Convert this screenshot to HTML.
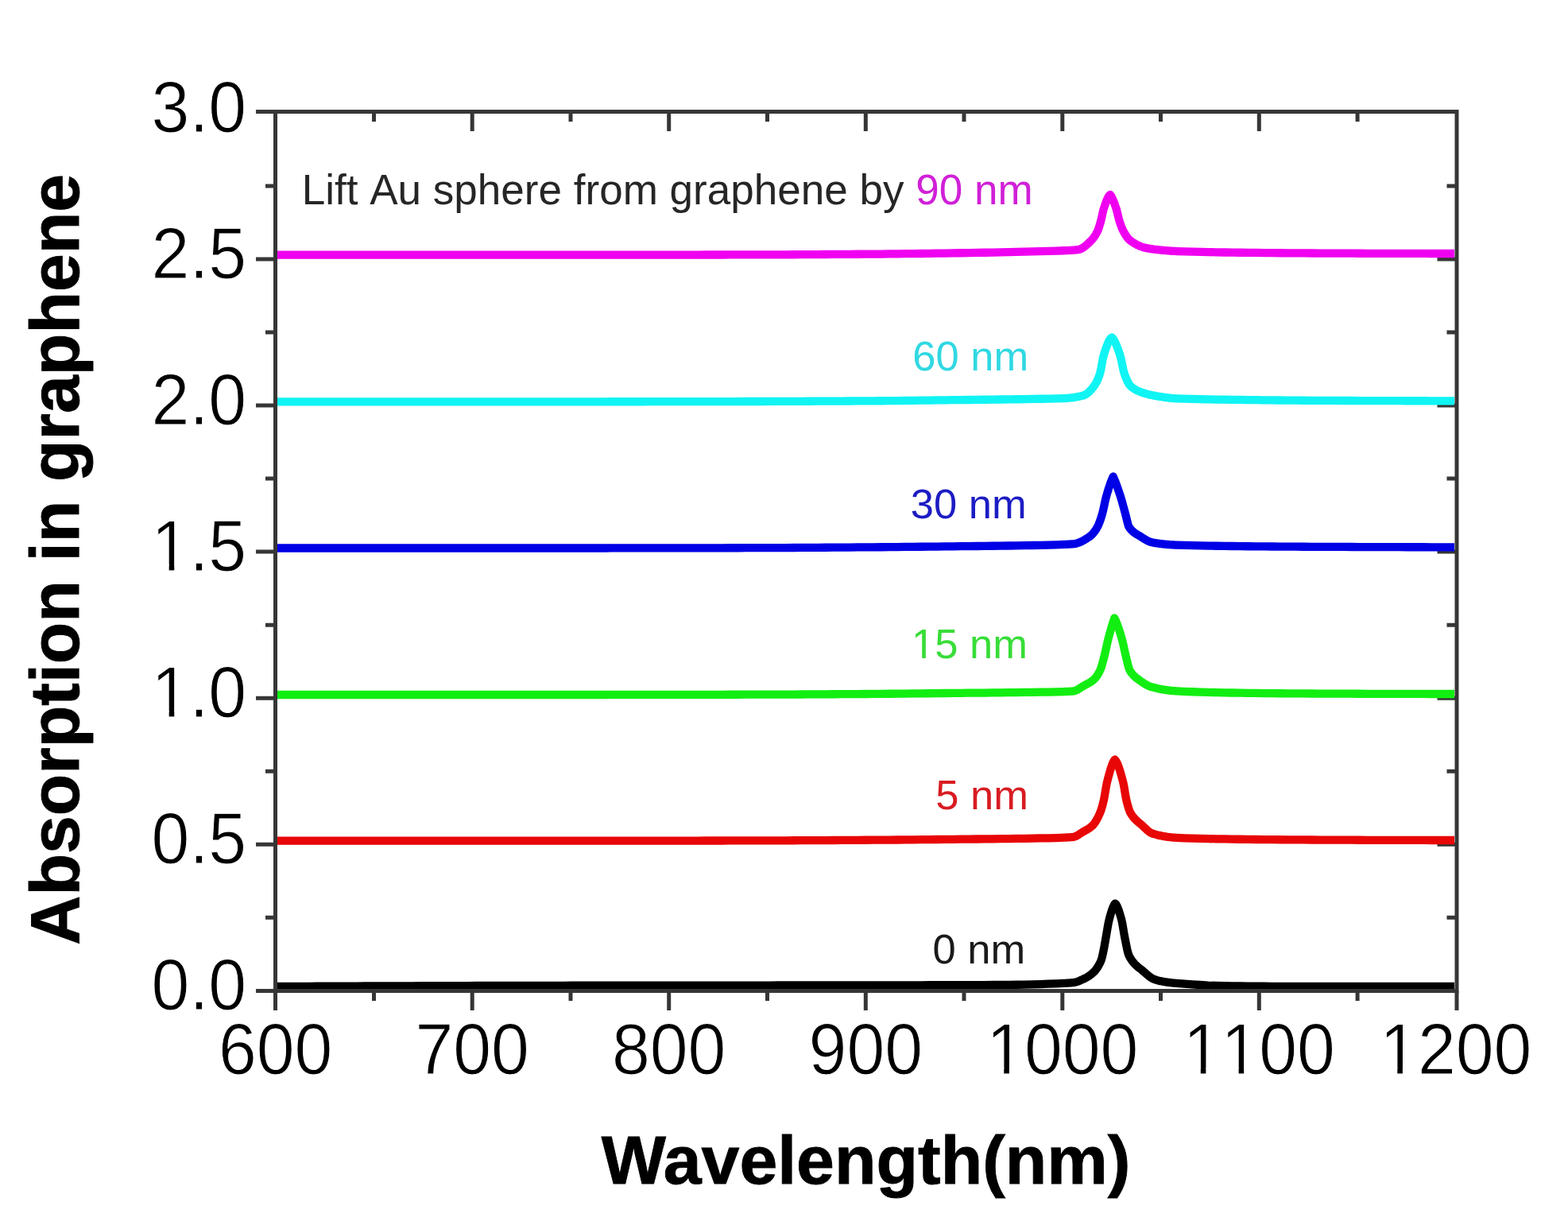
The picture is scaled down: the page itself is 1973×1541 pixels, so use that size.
<!DOCTYPE html><html><head><meta charset="utf-8"><title>Absorption in graphene</title>
<style>html,body{margin:0;padding:0;background:#fff;}svg{display:block;}text{font-family:"Liberation Sans",Arial,sans-serif;}</style></head><body>
<svg width="1973" height="1541" viewBox="0 0 1973 1541">
<rect width="1973" height="1541" fill="#fff"/>
<path d="M322.0,1246.5H346.5M334.0,1154.3H346.5M1833.0,1154.3H1820.5M322.0,1062.2H346.5M1833.0,1062.2H1808.5M334.0,970.2H346.5M1833.0,970.2H1820.5M322.0,878.2H346.5M1833.0,878.2H1808.5M334.0,786.2H346.5M1833.0,786.2H1820.5M322.0,694.1H346.5M1833.0,694.1H1808.5M334.0,602.1H346.5M1833.0,602.1H1820.5M322.0,510.1H346.5M1833.0,510.1H1808.5M334.0,418.1H346.5M1833.0,418.1H1820.5M322.0,326.0H346.5M1833.0,326.0H1808.5M334.0,234.0H346.5M1833.0,234.0H1820.5M322.0,140.5H346.5M346.5,1246.5V1271.0M470.5,1246.5V1259.0M470.5,140.5V153.0M594.2,1246.5V1271.0M594.2,140.5V165.0M718.0,1246.5V1259.0M718.0,140.5V153.0M841.7,1246.5V1271.0M841.7,140.5V165.0M965.5,1246.5V1259.0M965.5,140.5V153.0M1089.3,1246.5V1271.0M1089.3,140.5V165.0M1213.0,1246.5V1259.0M1213.0,140.5V153.0M1336.8,1246.5V1271.0M1336.8,140.5V165.0M1460.5,1246.5V1259.0M1460.5,140.5V153.0M1584.3,1246.5V1271.0M1584.3,140.5V165.0M1708.1,1246.5V1259.0M1708.1,140.5V153.0M1833.0,1246.5V1271.0" stroke="#363636" stroke-width="5" fill="none"/>
<path d="M349.0,320.70 L359.0,320.70 L369.0,320.70 L379.0,320.70 L389.0,320.70 L399.0,320.70 L409.0,320.70 L419.0,320.70 L429.0,320.70 L439.0,320.70 L449.0,320.70 L459.0,320.70 L469.0,320.70 L479.0,320.70 L489.0,320.70 L499.0,320.70 L509.0,320.70 L519.0,320.70 L529.0,320.70 L539.0,320.70 L549.0,320.70 L559.0,320.70 L569.0,320.70 L579.0,320.70 L589.0,320.70 L599.0,320.70 L609.0,320.70 L619.0,320.70 L629.0,320.70 L639.0,320.70 L649.0,320.70 L659.0,320.70 L669.0,320.70 L679.0,320.70 L689.0,320.70 L699.0,320.70 L709.0,320.70 L719.0,320.70 L729.0,320.69 L739.0,320.69 L749.0,320.69 L759.0,320.68 L769.0,320.67 L779.0,320.66 L789.0,320.66 L799.0,320.65 L809.0,320.63 L819.0,320.62 L829.0,320.61 L839.0,320.60 L849.0,320.58 L859.0,320.57 L869.0,320.55 L879.0,320.53 L889.0,320.52 L899.0,320.50 L909.0,320.48 L919.0,320.46 L929.0,320.44 L939.0,320.42 L949.0,320.40 L959.0,320.38 L969.0,320.35 L979.0,320.32 L989.0,320.28 L999.0,320.24 L1009.0,320.19 L1019.0,320.14 L1029.0,320.08 L1039.0,320.02 L1049.0,319.96 L1059.0,319.89 L1069.0,319.83 L1079.0,319.76 L1089.0,319.68 L1099.0,319.61 L1109.0,319.53 L1119.0,319.44 L1129.0,319.33 L1139.0,319.22 L1149.0,319.11 L1159.0,318.98 L1169.0,318.85 L1179.0,318.71 L1189.0,318.56 L1199.0,318.41 L1209.0,318.26 L1219.0,318.10 L1229.0,317.92 L1239.0,317.74 L1249.0,317.54 L1259.0,317.34 L1269.0,317.12 L1279.0,316.90 L1289.0,316.67 L1299.0,316.42 L1309.0,316.18 L1319.0,315.92 L1329.0,315.62 L1339.0,315.24 L1340.0,315.20 L1341.0,315.16 L1342.0,315.11 L1343.0,315.07 L1344.0,315.03 L1345.0,314.98 L1346.0,314.93 L1347.0,314.88 L1348.0,314.82 L1349.0,314.76 L1350.0,314.70 L1351.0,314.63 L1352.0,314.55 L1353.0,314.47 L1354.0,314.37 L1355.0,314.27 L1356.0,314.16 L1357.0,314.03 L1358.0,313.81 L1359.0,313.49 L1360.0,313.09 L1361.0,312.60 L1362.0,312.04 L1363.0,311.41 L1364.0,310.71 L1365.0,309.96 L1366.0,309.15 L1367.0,308.30 L1368.0,307.40 L1369.0,306.47 L1370.0,305.51 L1371.0,304.52 L1372.0,303.52 L1373.0,302.51 L1374.0,301.48 L1375.0,300.36 L1376.0,299.11 L1377.0,297.73 L1378.0,296.21 L1379.0,294.54 L1380.0,292.71 L1381.0,290.71 L1382.0,288.37 L1383.0,285.50 L1384.0,282.24 L1385.0,278.72 L1386.0,274.87 L1387.0,270.12 L1388.0,265.49 L1389.0,262.08 L1390.0,259.07 L1391.0,256.19 L1392.0,253.50 L1393.0,251.05 L1394.0,248.92 L1395.0,247.16 L1396.0,245.83 L1397.0,245.00 L1398.0,246.39 L1399.0,248.15 L1400.0,250.22 L1401.0,252.58 L1402.0,255.16 L1403.0,257.95 L1404.0,260.88 L1405.0,263.94 L1406.0,267.85 L1407.0,272.24 L1408.0,276.23 L1409.0,279.41 L1410.0,282.36 L1411.0,285.09 L1412.0,287.55 L1413.0,289.72 L1414.0,291.62 L1415.0,293.41 L1416.0,295.11 L1417.0,296.70 L1418.0,298.15 L1419.0,299.46 L1420.0,300.61 L1421.0,301.57 L1422.0,302.37 L1423.0,303.12 L1424.0,303.84 L1425.0,304.54 L1426.0,305.20 L1427.0,305.83 L1428.0,306.44 L1429.0,307.01 L1430.0,307.55 L1431.0,308.07 L1432.0,308.56 L1433.0,309.02 L1434.0,309.45 L1435.0,309.86 L1436.0,310.24 L1437.0,310.59 L1438.0,310.92 L1439.0,311.22 L1440.0,311.49 L1441.0,311.74 L1442.0,311.97 L1443.0,312.17 L1444.0,312.37 L1445.0,312.56 L1446.0,312.74 L1447.0,312.90 L1448.0,313.06 L1449.0,313.21 L1450.0,313.36 L1451.0,313.49 L1452.0,313.62 L1453.0,313.75 L1454.0,313.87 L1455.0,313.98 L1456.0,314.09 L1457.0,314.20 L1458.0,314.30 L1459.0,314.40 L1460.0,314.50 L1461.0,314.60 L1462.0,314.69 L1463.0,314.79 L1464.0,314.88 L1465.0,314.98 L1466.0,315.06 L1467.0,315.15 L1468.0,315.24 L1469.0,315.32 L1470.0,315.40 L1471.0,315.48 L1472.0,315.55 L1473.0,315.62 L1474.0,315.69 L1475.0,315.75 L1476.0,315.81 L1477.0,315.86 L1478.0,315.91 L1479.0,315.96 L1480.0,316.00 L1481.0,316.04 L1491.0,316.39 L1501.0,316.69 L1511.0,316.94 L1521.0,317.15 L1531.0,317.32 L1541.0,317.48 L1551.0,317.61 L1561.0,317.74 L1571.0,317.86 L1581.0,317.97 L1591.0,318.07 L1601.0,318.17 L1611.0,318.25 L1621.0,318.33 L1631.0,318.40 L1641.0,318.46 L1651.0,318.50 L1661.0,318.55 L1671.0,318.59 L1681.0,318.63 L1691.0,318.68 L1701.0,318.71 L1711.0,318.75 L1721.0,318.79 L1731.0,318.82 L1741.0,318.85 L1751.0,318.88 L1761.0,318.91 L1771.0,318.93 L1781.0,318.95 L1791.0,318.97 L1801.0,318.98 L1811.0,318.99 L1821.0,319.00 L1830.0,319.00" stroke="#f000f0" stroke-width="10.3" fill="none" stroke-linejoin="round" stroke-linecap="butt"/>
<path d="M349.0,505.30 L359.0,505.30 L369.0,505.30 L379.0,505.30 L389.0,505.30 L399.0,505.30 L409.0,505.30 L419.0,505.30 L429.0,505.30 L439.0,505.30 L449.0,505.30 L459.0,505.30 L469.0,505.30 L479.0,505.30 L489.0,505.30 L499.0,505.30 L509.0,505.30 L519.0,505.30 L529.0,505.30 L539.0,505.30 L549.0,505.30 L559.0,505.30 L569.0,505.30 L579.0,505.30 L589.0,505.30 L599.0,505.30 L609.0,505.30 L619.0,505.30 L629.0,505.30 L639.0,505.30 L649.0,505.30 L659.0,505.30 L669.0,505.30 L679.0,505.30 L689.0,505.30 L699.0,505.30 L709.0,505.30 L719.0,505.30 L729.0,505.29 L739.0,505.29 L749.0,505.29 L759.0,505.28 L769.0,505.27 L779.0,505.26 L789.0,505.25 L799.0,505.24 L809.0,505.23 L819.0,505.22 L829.0,505.21 L839.0,505.19 L849.0,505.18 L859.0,505.16 L869.0,505.15 L879.0,505.13 L889.0,505.11 L899.0,505.10 L909.0,505.08 L919.0,505.06 L929.0,505.04 L939.0,505.02 L949.0,505.00 L959.0,504.98 L969.0,504.95 L979.0,504.92 L989.0,504.89 L999.0,504.85 L1009.0,504.81 L1019.0,504.77 L1029.0,504.72 L1039.0,504.67 L1049.0,504.61 L1059.0,504.56 L1069.0,504.50 L1079.0,504.44 L1089.0,504.37 L1099.0,504.31 L1109.0,504.23 L1119.0,504.15 L1129.0,504.05 L1139.0,503.94 L1149.0,503.83 L1159.0,503.71 L1169.0,503.58 L1179.0,503.46 L1189.0,503.33 L1199.0,503.21 L1209.0,503.09 L1219.0,502.98 L1229.0,502.86 L1239.0,502.75 L1249.0,502.63 L1259.0,502.50 L1269.0,502.37 L1279.0,502.23 L1289.0,502.08 L1299.0,501.92 L1309.0,501.76 L1319.0,501.59 L1329.0,501.37 L1339.0,501.04 L1340.0,501.00 L1341.0,500.95 L1342.0,500.90 L1343.0,500.84 L1344.0,500.76 L1345.0,500.68 L1346.0,500.59 L1347.0,500.49 L1348.0,500.38 L1349.0,500.27 L1350.0,500.14 L1351.0,500.00 L1352.0,499.85 L1353.0,499.69 L1354.0,499.53 L1355.0,499.35 L1356.0,499.16 L1357.0,498.95 L1358.0,498.74 L1359.0,498.52 L1360.0,498.28 L1361.0,498.04 L1362.0,497.78 L1363.0,497.51 L1364.0,497.21 L1365.0,496.80 L1366.0,496.28 L1367.0,495.66 L1368.0,494.94 L1369.0,494.12 L1370.0,493.23 L1371.0,492.26 L1372.0,491.21 L1373.0,490.11 L1374.0,488.94 L1375.0,487.73 L1376.0,486.47 L1377.0,485.17 L1378.0,483.69 L1379.0,482.01 L1380.0,480.11 L1381.0,477.99 L1382.0,475.62 L1383.0,472.99 L1384.0,470.10 L1385.0,466.09 L1386.0,460.75 L1387.0,455.02 L1388.0,449.83 L1389.0,446.08 L1390.0,442.98 L1391.0,439.97 L1392.0,437.08 L1393.0,434.37 L1394.0,431.88 L1395.0,429.67 L1396.0,427.78 L1397.0,426.27 L1398.0,425.18 L1399.0,424.56 L1399.2,424.50 L1400.2,425.55 L1401.2,426.93 L1402.2,428.62 L1403.2,430.59 L1404.2,432.80 L1405.2,435.22 L1406.2,437.83 L1407.2,440.58 L1408.2,443.45 L1409.2,446.40 L1410.2,449.92 L1411.2,454.39 L1412.2,459.29 L1413.2,464.06 L1414.2,468.18 L1415.2,471.20 L1416.2,473.86 L1417.2,476.36 L1418.2,478.66 L1419.2,480.74 L1420.2,482.57 L1421.2,484.10 L1422.2,485.31 L1423.2,486.23 L1424.2,487.06 L1425.2,487.83 L1426.2,488.55 L1427.2,489.22 L1428.2,489.84 L1429.2,490.41 L1430.2,490.95 L1431.2,491.44 L1432.2,491.90 L1433.2,492.34 L1434.2,492.74 L1435.2,493.12 L1436.2,493.48 L1437.2,493.82 L1438.2,494.15 L1439.2,494.47 L1440.2,494.78 L1441.2,495.07 L1442.2,495.36 L1443.2,495.63 L1444.2,495.90 L1445.2,496.15 L1446.2,496.39 L1447.2,496.63 L1448.2,496.86 L1449.2,497.07 L1450.2,497.28 L1451.2,497.49 L1452.2,497.68 L1453.2,497.87 L1454.2,498.05 L1455.2,498.23 L1456.2,498.40 L1457.2,498.56 L1458.2,498.72 L1459.2,498.88 L1460.2,499.03 L1461.2,499.18 L1462.2,499.33 L1463.2,499.48 L1464.2,499.63 L1465.2,499.77 L1466.2,499.91 L1467.2,500.05 L1468.2,500.19 L1469.2,500.32 L1470.2,500.45 L1471.2,500.57 L1472.2,500.68 L1473.2,500.79 L1474.2,500.89 L1475.2,500.98 L1476.2,501.07 L1477.2,501.14 L1478.2,501.21 L1479.2,501.26 L1480.2,501.31 L1490.2,501.68 L1500.2,501.97 L1510.2,502.20 L1520.2,502.38 L1530.2,502.53 L1540.2,502.67 L1550.2,502.80 L1560.2,502.94 L1570.2,503.07 L1580.2,503.19 L1590.2,503.31 L1600.2,503.42 L1610.2,503.52 L1620.2,503.61 L1630.2,503.68 L1640.2,503.75 L1650.2,503.80 L1660.2,503.85 L1670.2,503.89 L1680.2,503.93 L1690.2,503.98 L1700.2,504.01 L1710.2,504.05 L1720.2,504.09 L1730.2,504.12 L1740.2,504.15 L1750.2,504.18 L1760.2,504.21 L1770.2,504.23 L1780.2,504.25 L1790.2,504.27 L1800.2,504.28 L1810.2,504.29 L1820.2,504.30 L1830.0,504.30" stroke="#10f4f4" stroke-width="10.3" fill="none" stroke-linejoin="round" stroke-linecap="butt"/>
<path d="M349.0,689.50 L359.0,689.50 L369.0,689.50 L379.0,689.50 L389.0,689.50 L399.0,689.50 L409.0,689.50 L419.0,689.50 L429.0,689.50 L439.0,689.50 L449.0,689.50 L459.0,689.50 L469.0,689.50 L479.0,689.50 L489.0,689.50 L499.0,689.50 L509.0,689.50 L519.0,689.50 L529.0,689.50 L539.0,689.50 L549.0,689.50 L559.0,689.50 L569.0,689.50 L579.0,689.50 L589.0,689.50 L599.0,689.50 L609.0,689.50 L619.0,689.50 L629.0,689.50 L639.0,689.50 L649.0,689.50 L659.0,689.50 L669.0,689.50 L679.0,689.50 L689.0,689.50 L699.0,689.50 L709.0,689.50 L719.0,689.50 L729.0,689.50 L739.0,689.49 L749.0,689.49 L759.0,689.48 L769.0,689.47 L779.0,689.47 L789.0,689.46 L799.0,689.45 L809.0,689.44 L819.0,689.42 L829.0,689.41 L839.0,689.40 L849.0,689.38 L859.0,689.37 L869.0,689.35 L879.0,689.34 L889.0,689.32 L899.0,689.30 L909.0,689.28 L919.0,689.26 L929.0,689.24 L939.0,689.22 L949.0,689.20 L959.0,689.18 L969.0,689.15 L979.0,689.11 L989.0,689.06 L999.0,689.01 L1009.0,688.95 L1019.0,688.89 L1029.0,688.83 L1039.0,688.76 L1049.0,688.69 L1059.0,688.61 L1069.0,688.54 L1079.0,688.46 L1089.0,688.38 L1099.0,688.31 L1109.0,688.23 L1119.0,688.14 L1129.0,688.05 L1139.0,687.96 L1149.0,687.86 L1159.0,687.75 L1169.0,687.64 L1179.0,687.54 L1189.0,687.42 L1199.0,687.31 L1209.0,687.20 L1219.0,687.09 L1229.0,686.99 L1239.0,686.88 L1249.0,686.77 L1259.0,686.65 L1269.0,686.51 L1279.0,686.37 L1289.0,686.20 L1299.0,686.02 L1309.0,685.83 L1319.0,685.63 L1329.0,685.35 L1339.0,684.95 L1340.0,684.90 L1341.0,684.85 L1342.0,684.80 L1343.0,684.74 L1344.0,684.69 L1345.0,684.63 L1346.0,684.57 L1347.0,684.50 L1348.0,684.44 L1349.0,684.37 L1350.0,684.30 L1351.0,684.21 L1352.0,684.07 L1353.0,683.88 L1354.0,683.66 L1355.0,683.39 L1356.0,683.08 L1357.0,682.74 L1358.0,682.36 L1359.0,681.95 L1360.0,681.51 L1361.0,681.03 L1362.0,680.53 L1363.0,680.00 L1364.0,679.44 L1365.0,678.86 L1366.0,678.25 L1367.0,677.63 L1368.0,676.98 L1369.0,676.32 L1370.0,675.64 L1371.0,674.95 L1372.0,674.23 L1373.0,673.41 L1374.0,672.46 L1375.0,671.40 L1376.0,670.23 L1377.0,668.94 L1378.0,667.55 L1379.0,666.04 L1380.0,664.44 L1381.0,662.72 L1382.0,660.72 L1383.0,658.35 L1384.0,655.66 L1385.0,652.72 L1386.0,649.58 L1387.0,646.27 L1388.0,642.31 L1389.0,637.82 L1390.0,633.15 L1391.0,628.63 L1392.0,624.61 L1393.0,621.15 L1394.0,617.80 L1395.0,614.58 L1396.0,611.50 L1397.0,608.58 L1398.0,605.84 L1399.0,603.30 L1400.0,600.98 L1400.7,599.50 L1401.7,601.79 L1402.7,604.21 L1403.7,606.74 L1404.7,609.37 L1405.7,612.11 L1406.7,614.94 L1407.7,617.85 L1408.7,620.84 L1409.7,623.90 L1410.7,627.11 L1411.7,630.53 L1412.7,634.10 L1413.7,637.76 L1414.7,641.45 L1415.7,645.13 L1416.7,648.81 L1417.7,653.00 L1418.7,657.23 L1419.7,660.81 L1420.7,663.05 L1421.7,664.48 L1422.7,665.76 L1423.7,666.90 L1424.7,667.92 L1425.7,668.83 L1426.7,669.64 L1427.7,670.39 L1428.7,671.06 L1429.7,671.70 L1430.7,672.29 L1431.7,672.88 L1432.7,673.45 L1433.7,674.04 L1434.7,674.66 L1435.7,675.30 L1436.7,675.94 L1437.7,676.58 L1438.7,677.21 L1439.7,677.83 L1440.7,678.43 L1441.7,679.02 L1442.7,679.57 L1443.7,680.10 L1444.7,680.59 L1445.7,681.04 L1446.7,681.44 L1447.7,681.80 L1448.7,682.10 L1449.7,682.34 L1450.7,682.53 L1451.7,682.71 L1452.7,682.89 L1453.7,683.06 L1454.7,683.22 L1455.7,683.38 L1456.7,683.53 L1457.7,683.68 L1458.7,683.82 L1459.7,683.95 L1460.7,684.08 L1461.7,684.20 L1462.7,684.32 L1463.7,684.43 L1464.7,684.54 L1465.7,684.64 L1466.7,684.74 L1467.7,684.83 L1468.7,684.92 L1469.7,685.00 L1470.7,685.08 L1471.7,685.15 L1472.7,685.22 L1473.7,685.29 L1474.7,685.35 L1475.7,685.40 L1476.7,685.46 L1477.7,685.50 L1478.7,685.55 L1479.7,685.59 L1480.7,685.63 L1490.7,685.96 L1500.7,686.22 L1510.7,686.44 L1520.7,686.62 L1530.7,686.76 L1540.7,686.89 L1550.7,687.01 L1560.7,687.12 L1570.7,687.23 L1580.7,687.32 L1590.7,687.42 L1600.7,687.50 L1610.7,687.57 L1620.7,687.64 L1630.7,687.70 L1640.7,687.76 L1650.7,687.80 L1660.7,687.85 L1670.7,687.89 L1680.7,687.93 L1690.7,687.97 L1700.7,688.01 L1710.7,688.05 L1720.7,688.08 L1730.7,688.12 L1740.7,688.15 L1750.7,688.18 L1760.7,688.21 L1770.7,688.23 L1780.7,688.25 L1790.7,688.27 L1800.7,688.28 L1810.7,688.29 L1820.7,688.30 L1830.0,688.30" stroke="#0000e6" stroke-width="10.3" fill="none" stroke-linejoin="round" stroke-linecap="butt"/>
<path d="M349.0,874.00 L359.0,874.00 L369.0,874.00 L379.0,874.00 L389.0,874.00 L399.0,874.00 L409.0,874.00 L419.0,874.00 L429.0,874.00 L439.0,874.00 L449.0,874.00 L459.0,874.00 L469.0,874.00 L479.0,874.00 L489.0,874.00 L499.0,874.00 L509.0,874.00 L519.0,874.00 L529.0,874.00 L539.0,874.00 L549.0,874.00 L559.0,874.00 L569.0,874.00 L579.0,874.00 L589.0,874.00 L599.0,874.00 L609.0,874.00 L619.0,874.00 L629.0,874.00 L639.0,874.00 L649.0,874.00 L659.0,874.00 L669.0,874.00 L679.0,874.00 L689.0,874.00 L699.0,874.00 L709.0,874.00 L719.0,874.00 L729.0,873.99 L739.0,873.99 L749.0,873.99 L759.0,873.98 L769.0,873.97 L779.0,873.96 L789.0,873.96 L799.0,873.95 L809.0,873.93 L819.0,873.92 L829.0,873.91 L839.0,873.90 L849.0,873.88 L859.0,873.87 L869.0,873.85 L879.0,873.83 L889.0,873.82 L899.0,873.80 L909.0,873.78 L919.0,873.76 L929.0,873.74 L939.0,873.72 L949.0,873.70 L959.0,873.68 L969.0,873.65 L979.0,873.61 L989.0,873.57 L999.0,873.53 L1009.0,873.48 L1019.0,873.43 L1029.0,873.37 L1039.0,873.31 L1049.0,873.25 L1059.0,873.18 L1069.0,873.12 L1079.0,873.05 L1089.0,872.98 L1099.0,872.91 L1109.0,872.83 L1119.0,872.75 L1129.0,872.66 L1139.0,872.56 L1149.0,872.45 L1159.0,872.35 L1169.0,872.24 L1179.0,872.13 L1189.0,872.02 L1199.0,871.91 L1209.0,871.81 L1219.0,871.71 L1229.0,871.62 L1239.0,871.53 L1249.0,871.43 L1259.0,871.33 L1269.0,871.22 L1279.0,871.10 L1289.0,870.97 L1299.0,870.82 L1309.0,870.67 L1319.0,870.53 L1329.0,870.33 L1339.0,870.03 L1340.0,869.99 L1341.0,869.95 L1342.0,869.91 L1343.0,869.86 L1344.0,869.82 L1345.0,869.77 L1346.0,869.72 L1347.0,869.67 L1348.0,869.61 L1349.0,869.56 L1350.0,869.50 L1351.0,869.38 L1352.0,869.16 L1353.0,868.84 L1354.0,868.44 L1355.0,867.97 L1356.0,867.44 L1357.0,866.86 L1358.0,866.24 L1359.0,865.61 L1360.0,864.95 L1361.0,864.30 L1362.0,863.66 L1363.0,863.04 L1364.0,862.46 L1365.0,861.91 L1366.0,861.37 L1367.0,860.85 L1368.0,860.33 L1369.0,859.80 L1370.0,859.25 L1371.0,858.67 L1372.0,858.07 L1373.0,857.42 L1374.0,856.72 L1375.0,855.96 L1376.0,855.13 L1377.0,854.22 L1378.0,853.19 L1379.0,852.00 L1380.0,850.67 L1381.0,849.18 L1382.0,847.53 L1383.0,845.72 L1384.0,843.74 L1385.0,841.48 L1386.0,838.57 L1387.0,835.16 L1388.0,831.46 L1389.0,827.68 L1390.0,823.70 L1391.0,819.32 L1392.0,814.73 L1393.0,810.18 L1394.0,805.88 L1395.0,802.00 L1396.0,798.26 L1397.0,794.62 L1398.0,791.10 L1399.0,787.70 L1400.0,784.43 L1401.0,781.31 L1402.0,778.35 L1402.3,777.50 L1403.3,779.47 L1404.3,781.69 L1405.3,784.14 L1406.3,786.80 L1407.3,789.65 L1408.3,792.67 L1409.3,795.83 L1410.3,799.12 L1411.3,802.52 L1412.3,806.12 L1413.3,810.29 L1414.3,814.82 L1415.3,819.47 L1416.3,823.98 L1417.3,828.10 L1418.3,832.29 L1419.3,836.45 L1420.3,840.09 L1421.3,842.71 L1422.3,844.44 L1423.3,845.97 L1424.3,847.33 L1425.3,848.54 L1426.3,849.62 L1427.3,850.60 L1428.3,851.49 L1429.3,852.32 L1430.3,853.10 L1431.3,853.85 L1432.3,854.60 L1433.3,855.35 L1434.3,856.09 L1435.3,856.81 L1436.3,857.51 L1437.3,858.20 L1438.3,858.87 L1439.3,859.51 L1440.3,860.13 L1441.3,860.73 L1442.3,861.29 L1443.3,861.83 L1444.3,862.34 L1445.3,862.81 L1446.3,863.24 L1447.3,863.64 L1448.3,863.99 L1449.3,864.31 L1450.3,864.58 L1451.3,864.83 L1452.3,865.08 L1453.3,865.33 L1454.3,865.56 L1455.3,865.79 L1456.3,866.01 L1457.3,866.23 L1458.3,866.44 L1459.3,866.64 L1460.3,866.84 L1461.3,867.02 L1462.3,867.21 L1463.3,867.38 L1464.3,867.55 L1465.3,867.71 L1466.3,867.87 L1467.3,868.01 L1468.3,868.16 L1469.3,868.29 L1470.3,868.42 L1471.3,868.54 L1472.3,868.65 L1473.3,868.76 L1474.3,868.86 L1475.3,868.95 L1476.3,869.04 L1477.3,869.12 L1478.3,869.19 L1479.3,869.26 L1480.3,869.32 L1490.3,869.84 L1500.3,870.27 L1510.3,870.63 L1520.3,870.91 L1530.3,871.15 L1540.3,871.34 L1550.3,871.50 L1560.3,871.65 L1570.3,871.79 L1580.3,871.92 L1590.3,872.04 L1600.3,872.14 L1610.3,872.23 L1620.3,872.32 L1630.3,872.39 L1640.3,872.45 L1650.3,872.50 L1660.3,872.55 L1670.3,872.59 L1680.3,872.63 L1690.3,872.68 L1700.3,872.72 L1710.3,872.75 L1720.3,872.79 L1730.3,872.82 L1740.3,872.85 L1750.3,872.88 L1760.3,872.91 L1770.3,872.93 L1780.3,872.95 L1790.3,872.97 L1800.3,872.98 L1810.3,872.99 L1820.3,873.00 L1830.0,873.00" stroke="#12ee12" stroke-width="10.3" fill="none" stroke-linejoin="round" stroke-linecap="butt"/>
<path d="M349.0,1057.70 L359.0,1057.70 L369.0,1057.70 L379.0,1057.70 L389.0,1057.70 L399.0,1057.70 L409.0,1057.70 L419.0,1057.70 L429.0,1057.70 L439.0,1057.70 L449.0,1057.70 L459.0,1057.70 L469.0,1057.70 L479.0,1057.70 L489.0,1057.70 L499.0,1057.70 L509.0,1057.70 L519.0,1057.70 L529.0,1057.70 L539.0,1057.70 L549.0,1057.70 L559.0,1057.70 L569.0,1057.70 L579.0,1057.70 L589.0,1057.70 L599.0,1057.70 L609.0,1057.70 L619.0,1057.70 L629.0,1057.70 L639.0,1057.70 L649.0,1057.70 L659.0,1057.70 L669.0,1057.70 L679.0,1057.70 L689.0,1057.70 L699.0,1057.70 L709.0,1057.70 L719.0,1057.70 L729.0,1057.69 L739.0,1057.69 L749.0,1057.69 L759.0,1057.68 L769.0,1057.67 L779.0,1057.66 L789.0,1057.65 L799.0,1057.64 L809.0,1057.63 L819.0,1057.62 L829.0,1057.61 L839.0,1057.59 L849.0,1057.58 L859.0,1057.56 L869.0,1057.55 L879.0,1057.53 L889.0,1057.51 L899.0,1057.50 L909.0,1057.48 L919.0,1057.46 L929.0,1057.44 L939.0,1057.42 L949.0,1057.40 L959.0,1057.38 L969.0,1057.35 L979.0,1057.32 L989.0,1057.29 L999.0,1057.25 L1009.0,1057.21 L1019.0,1057.16 L1029.0,1057.11 L1039.0,1057.06 L1049.0,1057.00 L1059.0,1056.95 L1069.0,1056.89 L1079.0,1056.83 L1089.0,1056.77 L1099.0,1056.71 L1109.0,1056.64 L1119.0,1056.57 L1129.0,1056.49 L1139.0,1056.40 L1149.0,1056.31 L1159.0,1056.21 L1169.0,1056.12 L1179.0,1056.02 L1189.0,1055.91 L1199.0,1055.81 L1209.0,1055.71 L1219.0,1055.61 L1229.0,1055.52 L1239.0,1055.42 L1249.0,1055.31 L1259.0,1055.20 L1269.0,1055.08 L1279.0,1054.94 L1289.0,1054.79 L1299.0,1054.62 L1309.0,1054.45 L1319.0,1054.28 L1329.0,1054.03 L1339.0,1053.65 L1340.0,1053.60 L1341.0,1053.55 L1342.0,1053.50 L1343.0,1053.45 L1344.0,1053.39 L1345.0,1053.33 L1346.0,1053.27 L1347.0,1053.21 L1348.0,1053.14 L1349.0,1053.07 L1350.0,1053.00 L1351.0,1052.86 L1352.0,1052.61 L1353.0,1052.26 L1354.0,1051.82 L1355.0,1051.30 L1356.0,1050.73 L1357.0,1050.11 L1358.0,1049.46 L1359.0,1048.80 L1360.0,1048.13 L1361.0,1047.48 L1362.0,1046.86 L1363.0,1046.27 L1364.0,1045.71 L1365.0,1045.15 L1366.0,1044.60 L1367.0,1044.05 L1368.0,1043.47 L1369.0,1042.87 L1370.0,1042.24 L1371.0,1041.56 L1372.0,1040.82 L1373.0,1040.02 L1374.0,1039.16 L1375.0,1038.20 L1376.0,1037.10 L1377.0,1035.84 L1378.0,1034.42 L1379.0,1032.85 L1380.0,1031.13 L1381.0,1029.27 L1382.0,1027.28 L1383.0,1025.15 L1384.0,1022.90 L1385.0,1020.34 L1386.0,1017.33 L1387.0,1013.91 L1388.0,1010.13 L1389.0,1005.98 L1390.0,1000.64 L1391.0,994.58 L1392.0,988.70 L1393.0,983.90 L1394.0,979.98 L1395.0,976.17 L1396.0,972.52 L1397.0,969.07 L1398.0,965.87 L1399.0,962.97 L1400.0,960.40 L1401.0,958.21 L1402.0,956.45 L1402.7,955.50 L1403.7,956.52 L1404.7,958.03 L1405.7,959.98 L1406.7,962.32 L1407.7,965.00 L1408.7,967.99 L1409.7,971.23 L1410.7,974.68 L1411.7,978.29 L1412.7,982.01 L1413.7,986.05 L1414.7,991.52 L1415.7,997.69 L1416.7,1003.54 L1417.7,1008.09 L1418.7,1011.89 L1419.7,1015.39 L1420.7,1018.50 L1421.7,1021.09 L1422.7,1023.07 L1423.7,1024.68 L1424.7,1026.16 L1425.7,1027.50 L1426.7,1028.74 L1427.7,1029.87 L1428.7,1030.92 L1429.7,1031.90 L1430.7,1032.82 L1431.7,1033.69 L1432.7,1034.54 L1433.7,1035.37 L1434.7,1036.19 L1435.7,1037.02 L1436.7,1037.88 L1437.7,1038.77 L1438.7,1039.70 L1439.7,1040.66 L1440.7,1041.62 L1441.7,1042.58 L1442.7,1043.52 L1443.7,1044.42 L1444.7,1045.28 L1445.7,1046.08 L1446.7,1046.81 L1447.7,1047.45 L1448.7,1047.98 L1449.7,1048.40 L1450.7,1048.72 L1451.7,1049.02 L1452.7,1049.32 L1453.7,1049.60 L1454.7,1049.88 L1455.7,1050.14 L1456.7,1050.40 L1457.7,1050.64 L1458.7,1050.88 L1459.7,1051.10 L1460.7,1051.32 L1461.7,1051.53 L1462.7,1051.73 L1463.7,1051.92 L1464.7,1052.10 L1465.7,1052.27 L1466.7,1052.43 L1467.7,1052.59 L1468.7,1052.73 L1469.7,1052.87 L1470.7,1053.00 L1471.7,1053.12 L1472.7,1053.23 L1473.7,1053.33 L1474.7,1053.43 L1475.7,1053.51 L1476.7,1053.59 L1477.7,1053.67 L1478.7,1053.73 L1479.7,1053.78 L1480.7,1053.83 L1490.7,1054.28 L1500.7,1054.63 L1510.7,1054.91 L1520.7,1055.14 L1530.7,1055.32 L1540.7,1055.47 L1550.7,1055.61 L1560.7,1055.74 L1570.7,1055.86 L1580.7,1055.98 L1590.7,1056.08 L1600.7,1056.17 L1610.7,1056.26 L1620.7,1056.33 L1630.7,1056.40 L1640.7,1056.45 L1650.7,1056.50 L1660.7,1056.55 L1670.7,1056.59 L1680.7,1056.63 L1690.7,1056.67 L1700.7,1056.71 L1710.7,1056.75 L1720.7,1056.79 L1730.7,1056.82 L1740.7,1056.85 L1750.7,1056.88 L1760.7,1056.91 L1770.7,1056.93 L1780.7,1056.95 L1790.7,1056.97 L1800.7,1056.98 L1810.7,1056.99 L1820.7,1057.00 L1830.0,1057.00" stroke="#e80606" stroke-width="10.3" fill="none" stroke-linejoin="round" stroke-linecap="butt"/>
<path d="M349.0,1241.00 L359.0,1240.95 L369.0,1240.91 L379.0,1240.86 L389.0,1240.81 L399.0,1240.77 L409.0,1240.72 L419.0,1240.68 L429.0,1240.64 L439.0,1240.59 L449.0,1240.55 L459.0,1240.51 L469.0,1240.47 L479.0,1240.43 L489.0,1240.39 L499.0,1240.35 L509.0,1240.32 L519.0,1240.28 L529.0,1240.24 L539.0,1240.21 L549.0,1240.18 L559.0,1240.14 L569.0,1240.11 L579.0,1240.08 L589.0,1240.05 L599.0,1240.02 L609.0,1239.99 L619.0,1239.97 L629.0,1239.94 L639.0,1239.92 L649.0,1239.90 L659.0,1239.87 L669.0,1239.85 L679.0,1239.84 L689.0,1239.82 L699.0,1239.80 L709.0,1239.79 L719.0,1239.77 L729.0,1239.76 L739.0,1239.75 L749.0,1239.73 L759.0,1239.72 L769.0,1239.71 L779.0,1239.70 L789.0,1239.69 L799.0,1239.68 L809.0,1239.67 L819.0,1239.66 L829.0,1239.66 L839.0,1239.65 L849.0,1239.64 L859.0,1239.63 L869.0,1239.62 L879.0,1239.62 L889.0,1239.61 L899.0,1239.60 L909.0,1239.59 L919.0,1239.58 L929.0,1239.57 L939.0,1239.56 L949.0,1239.55 L959.0,1239.55 L969.0,1239.53 L979.0,1239.52 L989.0,1239.51 L999.0,1239.50 L1009.0,1239.49 L1019.0,1239.48 L1029.0,1239.47 L1039.0,1239.46 L1049.0,1239.44 L1059.0,1239.43 L1069.0,1239.42 L1079.0,1239.41 L1089.0,1239.40 L1099.0,1239.39 L1109.0,1239.37 L1119.0,1239.36 L1129.0,1239.35 L1139.0,1239.33 L1149.0,1239.31 L1159.0,1239.29 L1169.0,1239.27 L1179.0,1239.25 L1189.0,1239.23 L1199.0,1239.20 L1209.0,1239.17 L1219.0,1239.14 L1229.0,1239.10 L1239.0,1239.04 L1249.0,1238.98 L1259.0,1238.91 L1269.0,1238.82 L1279.0,1238.73 L1289.0,1238.61 L1299.0,1238.43 L1309.0,1238.11 L1319.0,1237.72 L1329.0,1237.30 L1339.0,1236.88 L1340.0,1236.83 L1341.0,1236.77 L1342.0,1236.72 L1343.0,1236.65 L1344.0,1236.59 L1345.0,1236.52 L1346.0,1236.44 L1347.0,1236.36 L1348.0,1236.28 L1349.0,1236.18 L1350.0,1236.08 L1351.0,1235.98 L1352.0,1235.83 L1353.0,1235.62 L1354.0,1235.36 L1355.0,1235.06 L1356.0,1234.72 L1357.0,1234.34 L1358.0,1233.94 L1359.0,1233.51 L1360.0,1233.07 L1361.0,1232.62 L1362.0,1232.16 L1363.0,1231.70 L1364.0,1231.23 L1365.0,1230.75 L1366.0,1230.23 L1367.0,1229.69 L1368.0,1229.12 L1369.0,1228.52 L1370.0,1227.87 L1371.0,1227.19 L1372.0,1226.46 L1373.0,1225.69 L1374.0,1224.86 L1375.0,1223.98 L1376.0,1223.05 L1377.0,1222.04 L1378.0,1220.94 L1379.0,1219.73 L1380.0,1218.41 L1381.0,1216.94 L1382.0,1215.32 L1383.0,1213.53 L1384.0,1211.55 L1385.0,1209.37 L1386.0,1206.79 L1387.0,1203.00 L1388.0,1198.45 L1389.0,1193.63 L1390.0,1188.10 L1391.0,1182.31 L1392.0,1176.68 L1393.0,1170.74 L1394.0,1164.86 L1395.0,1159.60 L1396.0,1155.47 L1397.0,1151.88 L1398.0,1148.46 L1399.0,1145.30 L1400.0,1142.47 L1401.0,1140.05 L1402.0,1138.14 L1403.0,1136.79 L1403.2,1136.60 L1404.2,1137.57 L1405.2,1139.16 L1406.2,1141.27 L1407.2,1143.83 L1408.2,1146.75 L1409.2,1149.96 L1410.2,1153.38 L1411.2,1156.95 L1412.2,1161.69 L1413.2,1167.48 L1414.2,1173.52 L1415.2,1179.01 L1416.2,1183.97 L1417.2,1189.07 L1418.2,1193.91 L1419.2,1198.12 L1420.2,1201.30 L1421.2,1203.34 L1422.2,1205.11 L1423.2,1206.74 L1424.2,1208.22 L1425.2,1209.59 L1426.2,1210.84 L1427.2,1212.00 L1428.2,1213.07 L1429.2,1214.05 L1430.2,1214.98 L1431.2,1215.85 L1432.2,1216.68 L1433.2,1217.48 L1434.2,1218.27 L1435.2,1219.04 L1436.2,1219.83 L1437.2,1220.63 L1438.2,1221.46 L1439.2,1222.32 L1440.2,1223.20 L1441.2,1224.08 L1442.2,1224.96 L1443.2,1225.83 L1444.2,1226.68 L1445.2,1227.50 L1446.2,1228.29 L1447.2,1229.03 L1448.2,1229.73 L1449.2,1230.37 L1450.2,1230.94 L1451.2,1231.44 L1452.2,1231.86 L1453.2,1232.20 L1454.2,1232.52 L1455.2,1232.82 L1456.2,1233.11 L1457.2,1233.39 L1458.2,1233.64 L1459.2,1233.89 L1460.2,1234.12 L1461.2,1234.34 L1462.2,1234.54 L1463.2,1234.74 L1464.2,1234.92 L1465.2,1235.09 L1466.2,1235.26 L1467.2,1235.41 L1468.2,1235.56 L1469.2,1235.69 L1470.2,1235.82 L1471.2,1235.95 L1472.2,1236.07 L1473.2,1236.18 L1474.2,1236.30 L1475.2,1236.40 L1476.2,1236.51 L1477.2,1236.61 L1478.2,1236.71 L1479.2,1236.80 L1480.2,1236.89 L1490.2,1237.67 L1500.2,1238.33 L1510.2,1239.01 L1520.2,1239.63 L1530.2,1240.00 L1540.2,1240.20 L1550.2,1240.37 L1560.2,1240.51 L1570.2,1240.62 L1580.2,1240.71 L1590.2,1240.77 L1600.2,1240.80 L1610.2,1240.82 L1620.2,1240.84 L1630.2,1240.85 L1640.2,1240.87 L1650.2,1240.88 L1660.2,1240.90 L1670.2,1240.91 L1680.2,1240.92 L1690.2,1240.93 L1700.2,1240.94 L1710.2,1240.95 L1720.2,1240.96 L1730.2,1240.97 L1740.2,1240.97 L1750.2,1240.98 L1760.2,1240.98 L1770.2,1240.99 L1780.2,1240.99 L1790.2,1240.99 L1800.2,1241.00 L1810.2,1241.00 L1820.2,1241.00 L1830.0,1241.00" stroke="#000000" stroke-width="10.3" fill="none" stroke-linejoin="round" stroke-linecap="butt"/>
<rect x="346.5" y="140.5" width="1486.5" height="1106.0" fill="none" stroke="#363636" stroke-width="5"/>
<text transform="translate(310.1,1269.8) scale(1,1.05)" font-size="86" text-anchor="end" fill="#000" stroke="#fff" stroke-width="1" style="font-kerning:none">0.0</text>
<text transform="translate(310.1,1085.8) scale(1,1.05)" font-size="86" text-anchor="end" fill="#000" stroke="#fff" stroke-width="1" style="font-kerning:none">0.5</text>
<text transform="translate(310.1,901.7) scale(1,1.05)" font-size="86" text-anchor="end" fill="#000" stroke="#fff" stroke-width="1" style="font-kerning:none">1.0</text>
<rect x="195.10" y="894.25" width="17.58" height="8.65" fill="#fff"/>
<rect x="219.27" y="894.25" width="16.90" height="8.65" fill="#fff"/>
<text transform="translate(310.1,717.6) scale(1,1.05)" font-size="86" text-anchor="end" fill="#000" stroke="#fff" stroke-width="1" style="font-kerning:none">1.5</text>
<rect x="195.10" y="710.20" width="17.58" height="8.65" fill="#fff"/>
<rect x="219.27" y="710.20" width="16.90" height="8.65" fill="#fff"/>
<text transform="translate(310.1,533.6) scale(1,1.05)" font-size="86" text-anchor="end" fill="#000" stroke="#fff" stroke-width="1" style="font-kerning:none">2.0</text>
<text transform="translate(310.1,349.5) scale(1,1.05)" font-size="86" text-anchor="end" fill="#000" stroke="#fff" stroke-width="1" style="font-kerning:none">2.5</text>
<text transform="translate(310.1,165.5) scale(1,1.05)" font-size="86" text-anchor="end" fill="#000" stroke="#fff" stroke-width="1" style="font-kerning:none">3.0</text>
<text transform="translate(346.7,1350.7) scale(1,1.05)" font-size="86" text-anchor="middle" fill="#000" stroke="#fff" stroke-width="1" style="font-kerning:none">600</text>
<text transform="translate(594.2,1350.7) scale(1,1.05)" font-size="86" text-anchor="middle" fill="#000" stroke="#fff" stroke-width="1" style="font-kerning:none">700</text>
<text transform="translate(841.7,1350.7) scale(1,1.05)" font-size="86" text-anchor="middle" fill="#000" stroke="#fff" stroke-width="1" style="font-kerning:none">800</text>
<text transform="translate(1089.3,1350.7) scale(1,1.05)" font-size="86" text-anchor="middle" fill="#000" stroke="#fff" stroke-width="1" style="font-kerning:none">900</text>
<text transform="translate(1336.8,1350.7) scale(1,1.05)" font-size="86" text-anchor="middle" fill="#000" stroke="#fff" stroke-width="1" style="font-kerning:none">1000</text>
<rect x="1245.67" y="1343.25" width="17.58" height="8.65" fill="#fff"/>
<rect x="1269.85" y="1343.25" width="16.90" height="8.65" fill="#fff"/>
<text transform="translate(1584.3,1350.7) scale(1,1.05)" font-size="86" text-anchor="middle" fill="#000" stroke="#fff" stroke-width="1" style="font-kerning:none">1100</text>
<rect x="1493.19" y="1343.25" width="17.58" height="8.65" fill="#fff"/>
<rect x="1517.37" y="1343.25" width="16.90" height="8.65" fill="#fff"/>
<rect x="1541.02" y="1343.25" width="17.58" height="8.65" fill="#fff"/>
<rect x="1565.20" y="1343.25" width="16.90" height="8.65" fill="#fff"/>
<text transform="translate(1831.8,1350.7) scale(1,1.05)" font-size="86" text-anchor="middle" fill="#000" stroke="#fff" stroke-width="1" style="font-kerning:none">1200</text>
<rect x="1740.71" y="1343.25" width="17.58" height="8.65" fill="#fff"/>
<rect x="1764.89" y="1343.25" width="16.90" height="8.65" fill="#fff"/>
<text transform="translate(1089.6,1489)" font-size="86" font-weight="bold" text-anchor="middle" fill="#000" stroke="#000" stroke-width="0.9">Wavelength(nm)</text>
<text transform="translate(98.6,703.8) rotate(-90) scale(1,1.02)" font-size="86" font-weight="bold" text-anchor="middle" fill="#000" stroke="#000" stroke-width="0.9">Absorption in graphene</text>
<text x="379.7" y="256.5" font-size="53.05" fill="#262626" style="font-kerning:none">Lift Au sphere from graphene by <tspan fill="#d020d8">90 nm</tspan></text>
<text x="1148.3" y="466" font-size="52.5" fill="#30d8e2">60 nm</text>
<text x="1145.8" y="652.4" font-size="52.5" fill="#1c1cc4">30 nm</text>
<text x="1147" y="828" font-size="52.5" fill="#38dd38">15 nm</text>
<rect x="1149.00" y="823.38" width="11.20" height="5.82" fill="#fff"/>
<rect x="1164.84" y="823.38" width="10.79" height="5.82" fill="#fff"/>
<text x="1177.2" y="1018" font-size="52.5" fill="#d81c22">5 nm</text>
<text x="1173.5" y="1212.3" font-size="52.5" fill="#1a1a1a">0 nm</text>
</svg></body></html>
